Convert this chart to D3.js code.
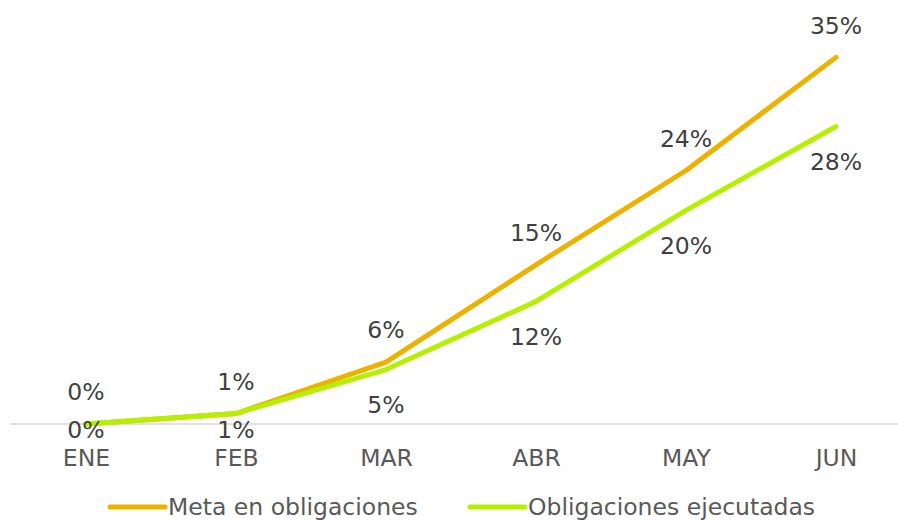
<!DOCTYPE html>
<html>
<head>
<meta charset="utf-8">
<script src="https://cdn.jsdelivr.net/npm/d3@7"></script>
<style>
  body { margin: 0; background: #fff; }
  text { font-family: "DejaVu Sans", Verdana, sans-serif; }
</style>
</head>
<body>
<script>
// months and the two series (fraction of budget)
let months = ["ENE", "FEB", "MAR", "ABR", "MAY", "JUN"];
let meta = [0, 0.010, 0.059, 0.152, 0.242, 0.350];
let ejecutadas = [0, 0.010, 0.052, 0.117, 0.204, 0.284];
let seriesNames = ["Meta en obligaciones", "Obligaciones ejecutadas"];
let seriesColors = ["#EDB100", "#B6F000"];

let width = 898, height = 520;
let fontSize = 23.5;

let canvas = d3.select("body")
            .append("svg")
            .attr("width", width)
            .attr("height", height);

let x = d3.scalePoint()
          .domain(months)
          .range([86, 836]);

let y = d3.scaleLinear()
          .domain([0, 0.4])
          .range([424, 5]);

let fmt = d3.format(".0%");

// category axis, labels only
let xAxis = canvas.append("g")
    .attr("transform", "translate(0," + y(0) + ")")
    .call(d3.axisBottom(x).tickSize(0).tickPadding(25));
xAxis.select(".domain").remove();
xAxis.selectAll("text")
    .attr("font-size", fontSize)
    .attr("fill", "#595959")
    .style("font-family", "'DejaVu Sans', Verdana, sans-serif");

canvas.append("line")
    .attr("x1", 10).attr("x2", width)
    .attr("y1", y(0)).attr("y2", y(0))
    .attr("stroke", "#d9d9d9")
    .attr("stroke-width", 1.5);

let line = d3.line()
    .x((d, i) => x(months[i]))
    .y(d => y(d));

let series = [meta, ejecutadas];

series.forEach((vals, k) => {
    canvas.append("path")
        .datum(vals)
        .attr("d", line)
        .attr("fill", "none")
        .attr("stroke", seriesColors[k])
        .attr("stroke-width", 5)
        .attr("stroke-linecap", "round")
        .attr("stroke-linejoin", "round");
});

// data labels: meta above, ejecutadas below
canvas.selectAll(".lab-meta")
    .data(meta)
    .enter().append("text")
    .attr("x", (d, i) => x(months[i]))
    .attr("y", d => y(d) - 32)
    .attr("dy", "0.35em")
    .attr("text-anchor", "middle")
    .attr("font-size", fontSize)
    .attr("fill", "#404040")
    .text(d => fmt(d));

// labels near the baseline are kept clear of the month names
canvas.selectAll(".lab-ejec")
    .data(ejecutadas)
    .enter().append("text")
    .attr("x", (d, i) => x(months[i]))
    .attr("y", d => Math.min(y(d) + 35, y(0) + 6))
    .attr("dy", "0.35em")
    .attr("text-anchor", "middle")
    .attr("font-size", fontSize)
    .attr("fill", "#404040")
    .text(d => fmt(d));

// legend
let legendX = [110, 470];
seriesNames.forEach((name, k) => {
    canvas.append("line")
        .attr("x1", legendX[k]).attr("x2", legendX[k] + 55)
        .attr("y1", 507).attr("y2", 507)
        .attr("stroke", seriesColors[k])
        .attr("stroke-width", 5)
        .attr("stroke-linecap", "round");
    canvas.append("text")
        .attr("x", legendX[k] + 58)
        .attr("y", 507)
        .attr("dy", "0.35em")
        .attr("font-size", fontSize)
        .attr("fill", "#595959")
        .text(name);
});
</script>
</body>
</html>
